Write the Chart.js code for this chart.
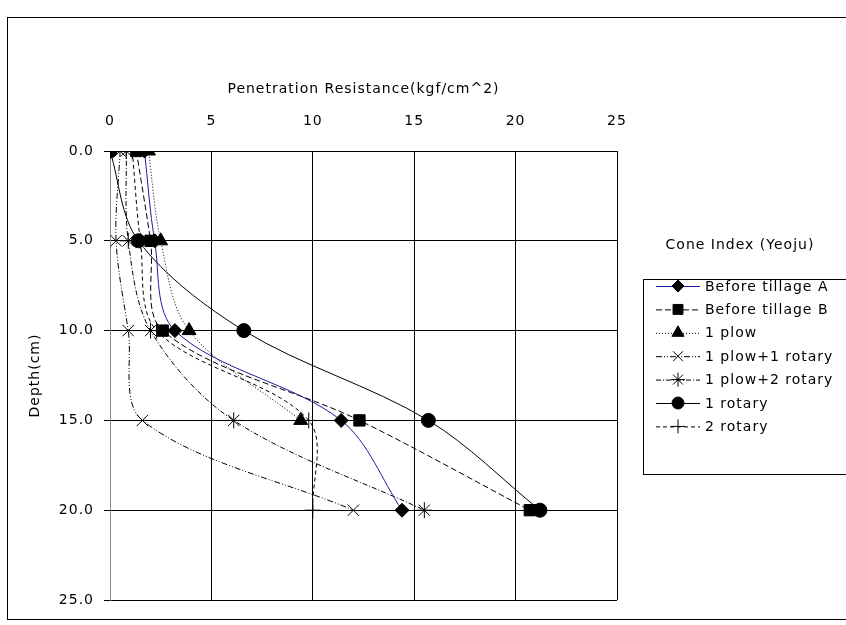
<!DOCTYPE html>
<html>
<head>
<meta charset="utf-8">
<title>Cone Index (Yeoju)</title>
<script src="https://cdn.jsdelivr.net/npm/chart.js@4/dist/chart.umd.min.js"></script>
<style>
  html, body { margin: 0; padding: 0; background: #fff; }
  #wrap { position: relative; width: 846px; height: 625px; }
  #frame { position: absolute; left: 7px; top: 17px; width: 845px; height: 603px; border: 1px solid #000; box-sizing: border-box; pointer-events: none; }
</style>
</head>
<body>
<div id="wrap">
  <canvas id="ciChart" width="846" height="625"></canvas>
  <div id="frame"></div>
</div>
<script>
//   <------------ Data ------------->

const depths = [0, 5, 10, 15, 20];

const seriesNames = [
  'Before tillage A',
  'Before tillage B',
  '1 plow',
  '1 plow+1 rotary',
  '1 plow+2 rotary',
  '1 rotary',
  '2 rotary'
];

const beforeTillageA = [1.7, 2.2, 3.2, 11.4, 14.4];
const beforeTillageB = [1.3, 2.0, 2.6, 12.3, 20.7];
const plow1 = [1.9, 2.5, 3.9, 9.4, null];
const plow1Rotary1 = [0.5, 0.3, 0.9, 1.6, 12.0];
const plow1Rotary2 = [0.8, 0.9, 2.0, 6.1, 15.5];
const rotary1 = [0.0, 1.4, 6.6, 15.7, 21.2];
const rotary2 = [1.1, 1.5, 2.3, 9.8, 10.0];

const xTicks = [0, 5, 10, 15, 20, 25];
const yTicks = [0, 5, 10, 15, 20, 25];

const FONT = "'DejaVu Sans', sans-serif";
const SPACING = '1px';

function toPoints(values) {
  return values.map((v, i) => ({ x: v, y: depths[i] }));
}

function series(label, values, opts) {
  return Object.assign({
    label: label,
    data: toPoints(values),
    borderColor: '#000',
    borderWidth: 1,
    backgroundColor: '#000',
    pointBackgroundColor: '#000',
    pointBorderColor: '#000',
    pointBorderWidth: 1,
    pointRadius: 6,
    tension: 0.33,
    fill: false,
    spanGaps: false
  }, opts);
}

const datasets = [
  series(seriesNames[0], beforeTillageA, { borderColor: '#1c1c9c', pointStyle: 'rectRot', pointRadius: 7 }),
  series(seriesNames[1], beforeTillageB, { borderDash: [6, 3], pointStyle: 'rect', pointRadius: 8 }),
  series(seriesNames[2], plow1, { borderDash: [1, 2], pointStyle: 'triangle', pointRadius: 8 }),
  series(seriesNames[3], plow1Rotary1, { borderDash: [6, 2, 1, 2, 1, 2], pointStyle: 'crossRot', pointRadius: 8 }),
  series(seriesNames[4], plow1Rotary2, { borderDash: [5, 2, 1, 2], pointStyle: 'star', pointRadius: 8 }),
  series(seriesNames[5], rotary1, { pointStyle: 'circle', pointRadius: 7 }),
  series(seriesNames[6], rotary2, { borderDash: [4, 3], pointStyle: 'cross', pointRadius: 8 })
];

//   <------------ Wide lettering for every label ------------->

const letterSpacing = {
  id: 'letterSpacing',
  beforeUpdate(chart) { chart.ctx.letterSpacing = SPACING; },
  beforeLayout(chart) { chart.ctx.letterSpacing = SPACING; },
  beforeDraw(chart) { chart.ctx.letterSpacing = SPACING; }
};

//   <------------ Legend drawn at the right side ------------->

const sideLegend = {
  id: 'sideLegend',
  afterDraw(chart) {
    const ctx = chart.ctx;
    ctx.save();
    ctx.font = '14px ' + FONT;
    ctx.fillStyle = '#000';
    ctx.textBaseline = 'middle';
    ctx.textAlign = 'center';
    ctx.fillText('Cone Index (Yeoju)', 740, 245);

    ctx.strokeStyle = '#000';
    ctx.lineWidth = 1;
    ctx.strokeRect(643.5, 279.5, 230, 195);

    ctx.textAlign = 'left';
    chart.data.datasets.forEach((ds, i) => {
      const y = 286 + i * 23.4;
      ctx.save();
      ctx.strokeStyle = ds.borderColor;
      ctx.lineWidth = 1;
      ctx.setLineDash(ds.borderDash || []);
      ctx.beginPath();
      ctx.moveTo(656, y + 0.5);
      ctx.lineTo(700, y + 0.5);
      ctx.stroke();
      ctx.restore();

      ctx.save();
      ctx.fillStyle = '#000';
      ctx.strokeStyle = '#000';
      ctx.lineWidth = 1;
      Chart.helpers.drawPoint(ctx, {
        pointStyle: ds.pointStyle,
        radius: ds.pointRadius - 1,
        rotation: 0,
        borderWidth: 1
      }, 678, y);
      ctx.restore();

      ctx.fillText(ds.label, 705, y + 1);
    });
    ctx.restore();
  }
};

//   <------------ Chart ------------->

const ctx = document.getElementById('ciChart').getContext('2d');

const config = {
  type: 'line',
  data: { datasets: datasets },
  plugins: [letterSpacing, sideLegend],
  options: {
    responsive: false,
    animation: false,
    layout: { padding: { left: 20, top: 60, right: 229, bottom: 25 } },
    plugins: {
      legend: { display: false },
      tooltip: { enabled: false }
    },
    scales: {
      x: {
        type: 'linear',
        position: 'top',
        min: 0,
        max: 25,
        afterFit: (scale) => { scale.height = 91; },
        afterBuildTicks: (scale) => { scale.ticks = xTicks.map(v => ({ value: v })); },
        ticks: {
          color: '#000',
          font: { family: FONT, size: 14 },
          padding: 21,
          maxRotation: 0
        },
        grid: { color: '#000', drawTicks: false },
        border: { color: '#000' },
        title: {
          display: true,
          text: 'Penetration Resistance(kgf/cm^2)',
          color: '#000',
          font: { family: FONT, size: 14 },
          padding: { top: 21, bottom: 0 }
        }
      },
      y: {
        type: 'linear',
        reverse: true,
        min: 0,
        max: 25,
        afterFit: (scale) => { scale.width = 90; },
        afterBuildTicks: (scale) => { scale.ticks = yTicks.map(v => ({ value: v })); },
        ticks: {
          color: '#000',
          font: { family: FONT, size: 14 },
          padding: 10,
          callback: (v) => Number(v).toFixed(1)
        },
        grid: { color: '#000', tickLength: 6 },
        border: { color: '#888' },
        title: {
          display: true,
          text: 'Depth(cm)',
          color: '#000',
          font: { family: FONT, size: 14 },
          padding: { top: 7, bottom: 0 }
        }
      }
    }
  }
};

var ciChart = new Chart(ctx, config);
</script>
</body>
</html>
